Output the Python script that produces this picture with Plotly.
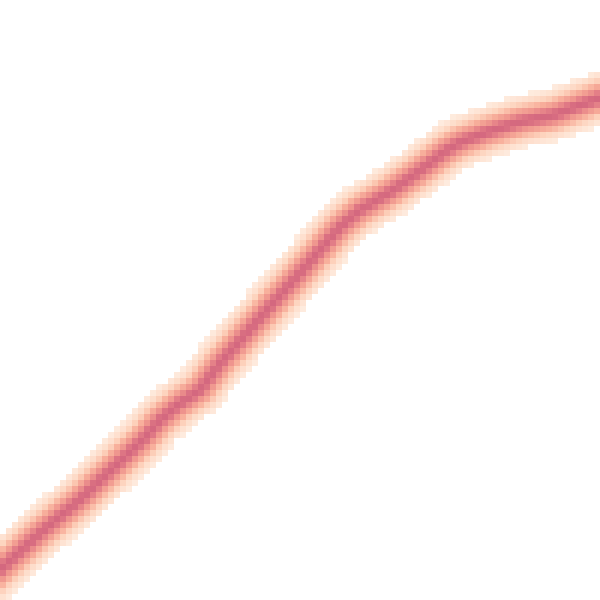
import numpy as np
import plotly.graph_objects as go

# Centerline of the density band (data units, 0-100 grid)
line_x = [0, 6.7, 13.3, 16.2, 23.8, 26.7, 30, 33.3, 36.7, 40.5, 45.5, 50, 53.3,
          56.7, 60, 65, 69.5, 74.5, 76.7, 81.2, 86.7, 92.2, 96.7, 100]
line_y = [5, 11.2, 16.7, 19.5, 26.7, 30, 32.8, 35, 39.5, 43.8, 49.5, 54.5, 58.3,
          62.2, 65, 68, 71.2, 75, 76.3, 78, 79.7, 80.8, 82.5, 83.7]

# Build the density table from the centerline
nb = 100
cx = np.arange(nb) + 0.5
cy = np.arange(nb) + 0.5
px = np.linspace(-5, 105, 2200)
py = np.interp(px, line_x, line_y)
s0 = (line_y[1] - line_y[0]) / (line_x[1] - line_x[0])
s1 = (line_y[-1] - line_y[-2]) / (line_x[-1] - line_x[-2])
py = np.where(px < 0, line_y[0] + s0 * px, py)
py = np.where(px > 100, line_y[-1] + s1 * (px - 100), py)
X, Y = np.meshgrid(cx, cy)
d = np.full(X.shape, 1e9)
for a, b in zip(px, py):
    d = np.minimum(d, np.hypot(X - a, Y - b))
z = np.exp(-(d / 2.9) ** 2)
z = np.where(z < 0.1, np.nan, z)

colorscale = [
    [0.0, "#feebde"],
    [0.3, "#fdd3bd"],
    [0.55, "#f8b09c"],
    [0.78, "#ef968e"],
    [0.9, "#e37e87"],
    [1.0, "#d4687f"],
]

fig = go.Figure(go.Heatmap(
    x=cx, y=cy, z=z, colorscale=colorscale, zmin=0.1, zmax=1,
    showscale=False, hoverongaps=False,
))
fig.update_layout(
    width=600, height=600, margin=dict(l=0, r=0, t=0, b=0),
    plot_bgcolor="white", paper_bgcolor="white",
    xaxis=dict(visible=False, range=[0, 100]),
    yaxis=dict(visible=False, range=[0, 100]),
)
fig.write_html("out.html", config={"displayModeBar": False},
               post_script="document.body.style.margin='0';")
